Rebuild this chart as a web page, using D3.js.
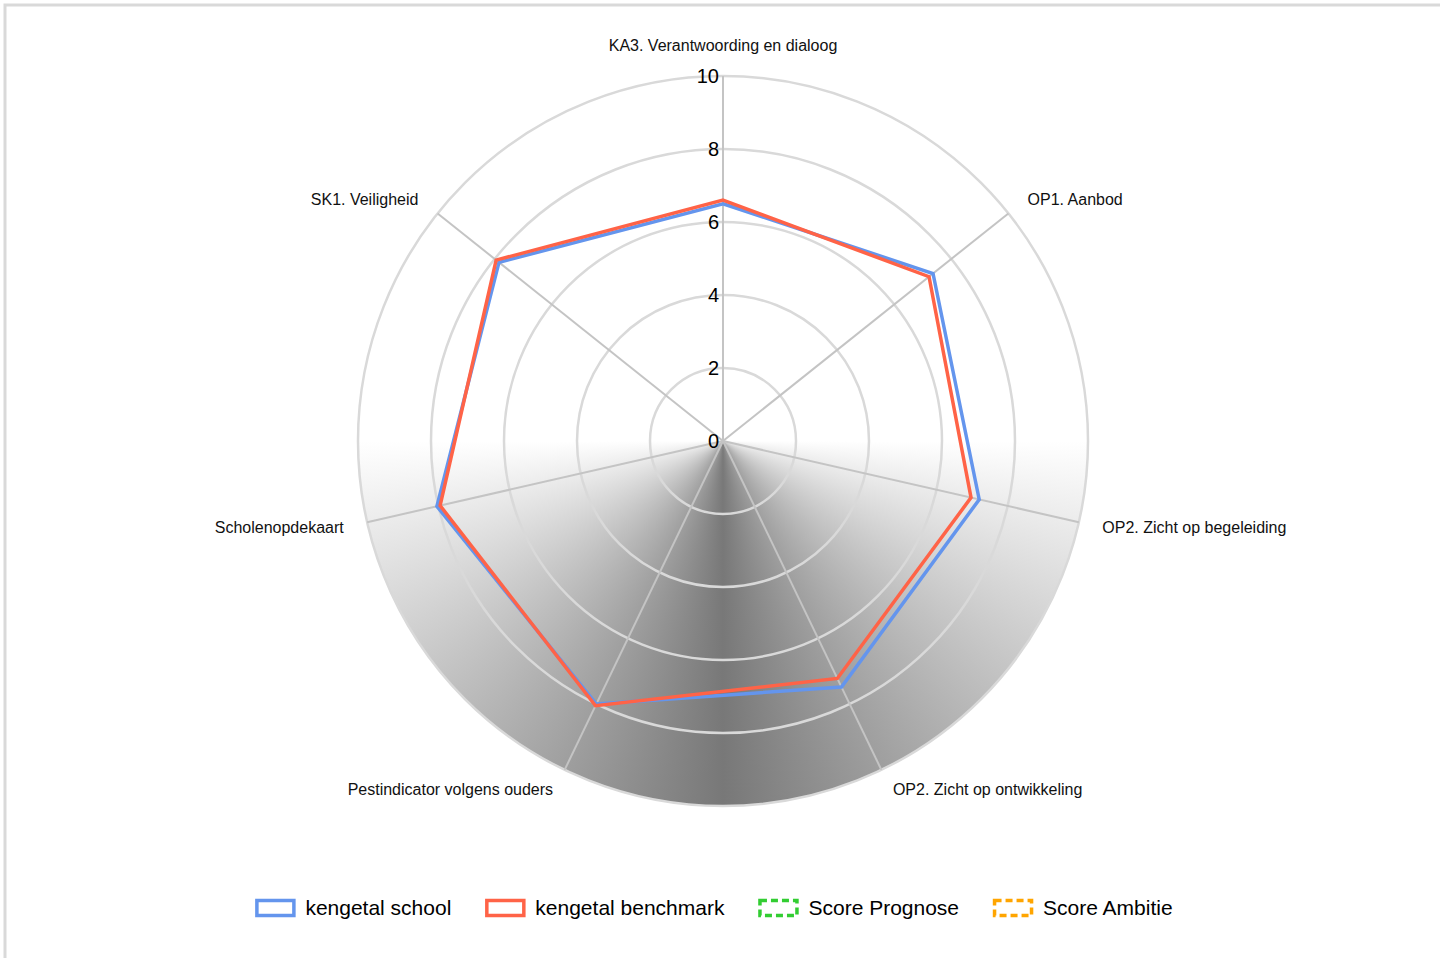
<!doctype html>
<html lang="en">
  <head>
    <meta charset="UTF-8">
    <title>Radar kengetallen</title>
    <style>
      body {
        margin: 0;
        background: #fff;
      }
      svg {
        display: block;
        font-family: "Liberation Sans", Arial, sans-serif;
      }
      .axis-label {
        font-size: 16px;
        fill: #111;
      }
      .tick-label {
        font-size: 20px;
        fill: #000;
      }
      .legend-label {
        font-size: 21px;
        fill: #000;
      }
    </style>
  </head>
  <body>
    <svg width="1440" height="958"></svg>
    <script src="https://d3js.org/d3.v7.min.js"></script>
    <script>

      // axes, clockwise from the top
      var axes = [
        "KA3. Verantwoording en dialoog",
        "OP1. Aanbod",
        "OP2. Zicht op begeleiding",
        "OP2. Zicht op ontwikkeling",
        "Pestindicator volgens ouders",
        "Scholenopdekaart",
        "SK1. Veiligheid"
      ];

      var schoolValues = [6.5, 7.36, 7.2, 7.48, 8.0, 8.04, 7.85];
      var benchmarkValues = [6.6, 7.22, 6.97, 7.22, 8.05, 7.95, 7.95];
      var prognoseValues = [];
      var ambitieValues = [];

      var ticks = [0, 2, 4, 6, 8, 10];

      var legendNames = ["kengetal school", "kengetal benchmark", "Score Prognose", "Score Ambitie"];
      var legendColors = ["#6495ed", "#ff6347", "#32cd32", "#ffa500"];

      var svg = d3.select("svg"),
              cx = 723,
              cy = 441,
              radius = 365;

      // frame
      svg.append("rect")
              .attr("x", 5)
              .attr("y", 5)
              .attr("width", 1500)
              .attr("height", 1000)
              .attr("fill", "none")
              .attr("stroke", "#d9d9d9")
              .attr("stroke-width", 3);

      var g = svg.append("g").attr("transform", "translate(" + cx + "," + cy + ")");

      var r = d3.scaleLinear().domain([0, 10]).range([0, radius]);
      var angle = function (i) {
        return i * 2 * Math.PI / axes.length;
      };

      // shaded lower half: sweep from white at the sides to grey straight down
      g.append("foreignObject")
              .attr("x", -radius)
              .attr("y", -radius)
              .attr("width", radius * 2)
              .attr("height", radius * 2)
              .append("xhtml:div")
              .style("width", radius * 2 + "px")
              .style("height", radius * 2 + "px")
              .style("border-radius", "50%")
              .style("background", "conic-gradient(from 90deg, #ffffff 0deg, #787878 90deg, #ffffff 180deg, #ffffff 360deg)");

      // grid circles
      g.selectAll(".grid")
              .data(ticks.filter(function (t) { return t > 0; }))
              .enter().append("circle")
              .attr("class", "grid")
              .attr("r", function (t) { return r(t); })
              .attr("fill", "none")
              .attr("stroke", "#d9d9d9")
              .attr("stroke-width", 2.5);

      // spokes
      g.selectAll(".spoke")
              .data(axes)
              .enter().append("line")
              .attr("class", "spoke")
              .attr("x1", 0)
              .attr("y1", 0)
              .attr("x2", function (d, i) { return r(10) * Math.sin(angle(i)); })
              .attr("y2", function (d, i) { return -r(10) * Math.cos(angle(i)); })
              .attr("stroke", "#c4c4c4")
              .attr("stroke-width", 2);

      // tick labels
      g.selectAll(".tick-label")
              .data(ticks)
              .enter().append("text")
              .attr("class", "tick-label")
              .attr("x", -4)
              .attr("y", function (t) { return -r(t); })
              .attr("dy", "0.36em")
              .attr("text-anchor", "end")
              .text(function (t) { return t; });

      // axis labels
      g.selectAll(".axis-label")
              .data(axes)
              .enter().append("text")
              .attr("class", "axis-label")
              .attr("x", function (d, i) {
                var s = Math.sin(angle(i));
                return (radius + 22) * s + (Math.abs(s) < 0.01 ? 0 : (s > 0 ? 2 : -2));
              })
              .attr("y", function (d, i) {
                return -(radius + 22) * Math.cos(angle(i)) + (i === 0 ? -9 : 0);
              })
              .attr("dy", "0.35em")
              .attr("text-anchor", function (d, i) {
                var s = Math.sin(angle(i));
                return Math.abs(s) < 0.01 ? "middle" : (s > 0 ? "start" : "end");
              })
              .text(function (d) { return d; });

      // series
      var line = d3.lineRadial()
              .angle(function (d, i) { return angle(i); })
              .radius(function (d) { return r(d); })
              .curve(d3.curveLinearClosed);

      var series = [
        {values: schoolValues, color: legendColors[0], dash: null},
        {values: benchmarkValues, color: legendColors[1], dash: null},
        {values: prognoseValues, color: legendColors[2], dash: "8,5"},
        {values: ambitieValues, color: legendColors[3], dash: "8,5"}
      ];

      g.selectAll(".series")
              .data(series.filter(function (s) { return s.values.length; }))
              .enter().append("path")
              .attr("class", "series")
              .attr("d", function (s) { return line(s.values); })
              .attr("fill", "none")
              .attr("stroke", function (s) { return s.color; })
              .attr("stroke-width", 3.5)
              .attr("stroke-linejoin", "miter")
              .attr("stroke-dasharray", function (s) { return s.dash; });

      // legend
      var legend = svg.append("g").attr("transform", "translate(0,908)");
      var items = legend.selectAll(".legend-item")
              .data(legendNames)
              .enter().append("g")
              .attr("class", "legend-item");

      items.append("rect")
              .attr("x", 1.5)
              .attr("y", -7.5)
              .attr("width", 37)
              .attr("height", 15)
              .attr("fill", "none")
              .attr("stroke", function (d, i) { return legendColors[i]; })
              .attr("stroke-width", 3.5)
              .attr("stroke-dasharray", function (d, i) { return i > 1 ? "7,4" : null; });

      items.append("text")
              .attr("class", "legend-label")
              .attr("x", 50)
              .attr("dy", "0.35em")
              .text(function (d) { return d; });

      var widths = [];
      items.each(function () {
        widths.push(50 + d3.select(this).select("text").node().getComputedTextLength());
      });
      var gap = 34;
      var total = d3.sum(widths) + gap * (widths.length - 1);
      var x0 = 714 - total / 2;
      items.attr("transform", function (d, i) {
        var x = x0 + d3.sum(widths.slice(0, i)) + gap * i;
        return "translate(" + x + ",0)";
      });

    </script>
  </body>
</html>
